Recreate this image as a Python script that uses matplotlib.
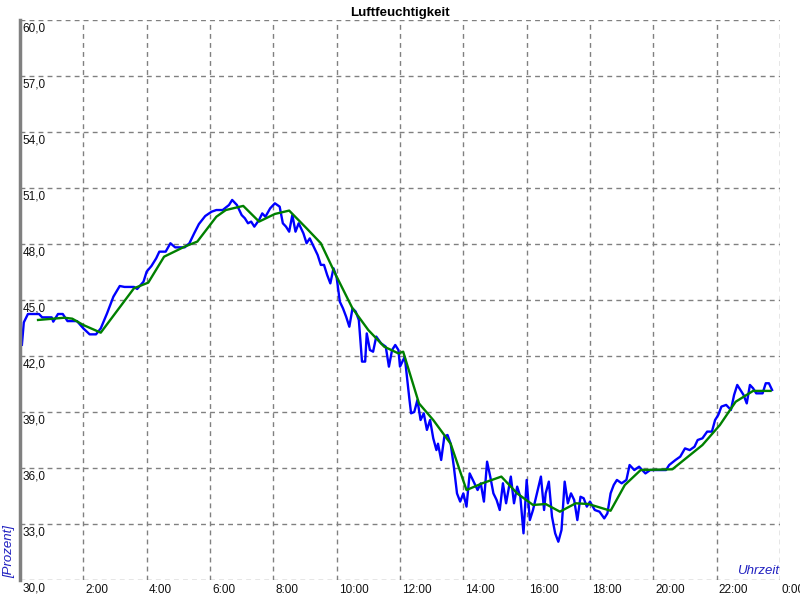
import numpy as np
import matplotlib.pyplot as plt
from matplotlib.transforms import blended_transform_factory

# ----- Daten (Stunde, Luftfeuchtigkeit in %) -----
blau_h = [0.06, 0.12, 0.25, 0.4, 0.6, 0.7, 1.0, 1.05, 1.2, 1.35, 1.5, 1.8, 2.0, 2.2, 2.4,
          2.55, 2.75, 2.95, 3.15, 3.3, 3.6, 3.7, 3.9, 4.0, 4.15, 4.3, 4.4, 4.6, 4.75, 4.9,
          5.2, 5.35, 5.5, 5.65, 5.85, 6.05, 6.2, 6.4, 6.6, 6.7, 6.85, 7.0, 7.1, 7.2, 7.3,
          7.4, 7.55, 7.65, 7.75, 7.9, 8.05, 8.2, 8.3, 8.4, 8.5, 8.6, 8.7, 8.8, 8.95, 9.05,
          9.15, 9.3, 9.4, 9.5, 9.6, 9.7, 9.8, 9.9, 10.0, 10.1, 10.2, 10.3, 10.4, 10.5, 10.6,
          10.7, 10.8, 10.9, 10.95, 11.05, 11.15, 11.25, 11.4, 11.55, 11.65, 11.75, 11.85, 11.95,
          12.0, 12.15, 12.3, 12.35, 12.45, 12.55, 12.65, 12.75, 12.85, 12.95, 13.05, 13.15,
          13.2, 13.3, 13.4, 13.5, 13.6, 13.7, 13.8, 13.9, 14.0, 14.1, 14.2, 14.3, 14.45,
          14.55, 14.65, 14.75, 14.85, 14.95, 15.05, 15.15, 15.25, 15.35, 15.5, 15.6, 15.7,
          15.8, 15.9, 16.0, 16.1, 16.2, 16.3, 16.45, 16.55, 16.6, 16.7, 16.8, 16.9, 17.0,
          17.1, 17.2, 17.3, 17.4, 17.5, 17.6, 17.7, 17.8, 17.9, 18.0, 18.15, 18.3, 18.45,
          18.55, 18.65, 18.75, 18.85, 19.0, 19.15, 19.25, 19.4, 19.55, 19.65, 19.75, 19.9,
          20.4, 20.5, 20.7, 20.85, 21.0, 21.15, 21.3, 21.4, 21.55, 21.7, 21.85, 21.95, 22.05,
          22.15, 22.3, 22.45, 22.55, 22.65, 22.75, 22.85, 22.95, 23.05, 23.15, 23.25, 23.45,
          23.55, 23.65, 23.75]
blau_v = [42.6, 43.8, 44.25, 44.25, 44.25, 44.07, 44.07, 43.84, 44.25, 44.25, 43.87, 43.87,
          43.48, 43.16, 43.16, 43.48, 44.29, 45.18, 45.75, 45.7, 45.7, 45.59, 45.98, 46.52,
          46.82, 47.23, 47.59, 47.59, 48.04, 47.82, 47.82, 48.04, 48.57, 49.07, 49.5, 49.73,
          49.82, 49.82, 50.09, 50.36, 50.09, 49.55, 49.38, 49.11, 49.2, 48.93, 49.29, 49.64,
          49.46, 49.91, 50.18, 50.0, 49.11, 48.93, 48.66, 49.55, 48.66, 49.11, 48.57, 48.04,
          48.3, 47.77, 47.41, 46.88, 46.88, 46.34, 45.89, 46.7, 46.2, 44.91, 44.55, 44.1,
          43.57, 44.55, 44.38, 43.93, 41.7, 41.7, 43.21, 42.32, 42.23, 43.04, 42.68, 42.5,
          41.43, 42.32, 42.59, 42.32, 41.43, 41.96, 39.64, 38.93, 39.0, 39.64, 38.57, 38.93,
          38.04, 38.57, 37.59, 36.96, 37.3, 36.43, 37.68, 37.77, 37.3, 36.07, 34.64, 34.2,
          34.64, 33.93, 35.71, 35.36, 34.82, 35.18, 34.2, 36.34, 35.54, 34.64, 34.29, 33.75,
          35.18, 34.11, 35.54, 34.11, 35.0, 34.46, 32.5, 35.36, 33.21, 33.75, 34.46, 35.54,
          33.75, 34.64, 35.27, 33.39, 32.5, 32.05, 32.68, 35.27, 34.11, 34.64, 34.29, 33.21,
          34.46, 34.38, 33.93, 34.2, 33.75, 33.66, 33.3, 33.57, 34.64, 35.09, 35.36, 35.18,
          35.36, 36.16, 35.89, 36.07, 35.89, 35.71, 35.89, 35.89, 36.16, 36.43, 36.61, 37.05,
          36.96, 37.14, 37.5, 37.59, 37.95, 37.95, 38.57, 38.84, 39.29, 39.38, 39.11, 39.91,
          40.45, 40.18, 39.91, 39.46, 40.45, 40.27, 40.0, 40.0, 40.54, 40.54, 40.18]

gruen_h = [0.57, 1.4, 1.65, 2.0, 2.55, 3.6, 4.05, 4.55, 5.2, 5.6, 6.2, 6.5, 7.05, 7.55, 8.05,
           8.5, 9.05, 9.5, 10.0, 10.5, 11.0, 11.5, 11.95, 12.1, 12.6, 13.05, 13.6, 14.1, 14.6,
           15.2, 15.7, 16.2, 16.6, 17.05, 17.55, 17.95, 18.65, 19.1, 19.6, 20.6, 21.55, 22.1,
           22.6, 23.15, 23.7]
gruen_v = [43.93, 44.05, 44.0, 43.66, 43.25, 45.63, 45.93, 47.32, 47.86, 48.13, 49.46, 49.82,
           50.04, 49.2, 49.61, 49.79, 48.84, 48.04, 46.25, 44.55, 43.39, 42.5, 42.14, 42.23,
           39.46, 38.57, 37.3, 34.82, 35.18, 35.54, 34.64, 34.02, 34.07, 33.66, 34.11, 34.07,
           33.71, 35.09, 35.89, 35.93, 37.23, 38.3, 39.55, 40.13, 40.13]

x_ticks = [0, 2, 4, 6, 8, 10, 12, 14, 16, 18, 20, 22, 24]
x_labels = ["", "2:00", "4:00", "6:00", "8:00", "10:00", "12:00", "14:00", "16:00",
            "18:00", "20:00", "22:00", "0:00"]
y_ticks = [30, 33, 36, 39, 42, 45, 48, 51, 54, 57, 60]

plt.rcParams['font.family'] = ['Liberation Sans', 'DejaVu Sans']

fig = plt.figure(figsize=(8, 6), dpi=100)
ax = fig.add_axes([0.025, 20 / 600, 0.95, 560 / 600])

ax.plot(blau_h, blau_v, color="#0000ff", linewidth=1.7)
ax.plot(gruen_h, gruen_v, color="#008000", linewidth=1.7)

ax.set_xlim(0, 24)
ax.set_ylim(30, 60)
ax.set_xticks(x_ticks)
ax.set_yticks(y_ticks)
ax.set_xticklabels([])
ax.set_yticklabels([])
ax.tick_params(length=0)
ax.grid(True, color="#808080", linestyle=(0, (3.5, 3)), linewidth=1)

for s in ["top", "right", "bottom"]:
    ax.spines[s].set_visible(False)
ax.spines["left"].set_color("#808080")
ax.spines["left"].set_linewidth(2.5)

# Beschriftungen
ty = blended_transform_factory(ax.transAxes, ax.transData)
for v in y_ticks:
    ax.text(0.003, v - 0.15, f"{v},0", transform=ty, ha="left", va="top",
            fontsize=8.5, color="#101010", clip_on=False)

tx = blended_transform_factory(ax.transData, ax.transAxes)
for h, lab in zip(x_ticks, x_labels):
    ax.text(h + 0.06, -0.007, lab, transform=tx, ha="left", va="top",
            fontsize=8.5, color="#101010", clip_on=False)

ax.set_title("Luftfeuchtigkeit", fontsize=9.5, fontweight="bold", pad=3)
ax.text(0.999, 0.005, "Uhrzeit", transform=ax.transAxes, ha="right", va="bottom",
        fontsize=9.5, style="italic", color="#2020c0")
fig.text(0.004, 0.037, "[Prozent]", rotation=90, ha="left", va="bottom",
         fontsize=9.5, style="italic", color="#2020c0")

fig.savefig("out.png", dpi=100)
